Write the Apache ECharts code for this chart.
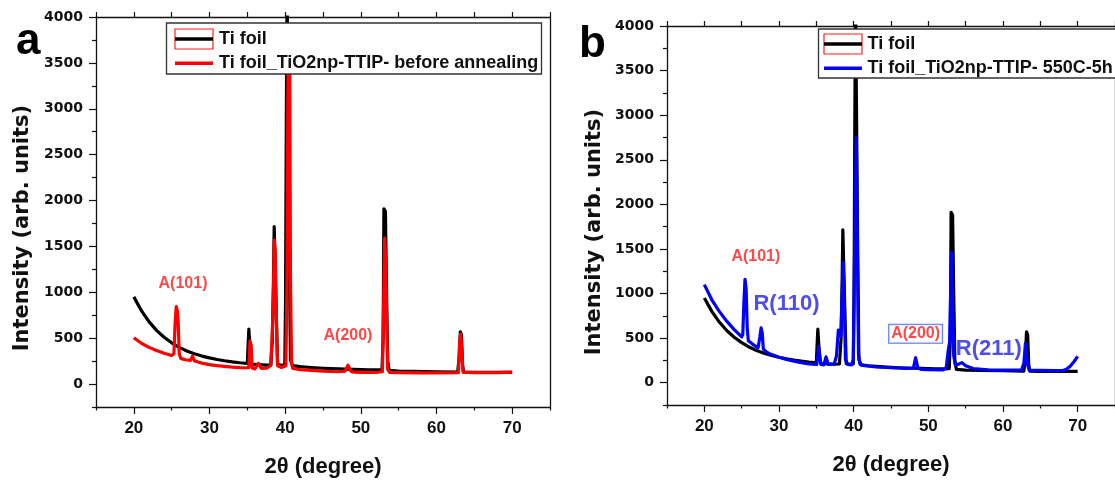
<!DOCTYPE html>
<html><head><meta charset="utf-8">
<script src="https://cdn.jsdelivr.net/npm/echarts@6/dist/echarts.min.js"></script>
<style>html,body{margin:0;padding:0;background:#fff}#c{width:1115px;height:483px}</style>
</head><body><div id="c"></div>
<script>
// ---------- tick values ----------
const xMajorTicks = [20, 30, 40, 50, 60, 70];
const xMinorTicks = [15, 25, 35, 45, 55, 65, 75];
const xAllTicks = [15, 20, 25, 30, 35, 40, 45, 50, 55, 60, 65, 70, 75];
const yMajorTicks = [0, 500, 1000, 1500, 2000, 2500, 3000, 3500, 4000];
const yMinorTicks = [-250, 250, 750, 1250, 1750, 2250, 2750, 3250, 3750];

// ---------- series (2theta, intensity) ----------
const tiFoil = [
  [20,950],[21,800],[22,680],[23,585],[24,510],[25,450],[26,400],[27,360],[28,330],[29,305],
  [30,285],[31,268],[32,254],[33,242],[34,232],[35.0,224],[35.1,420],[35.2,600],[35.35,590],[35.45,260],
  [35.6,218],[36.5,212],[37.5,207],[38.1,210],[38.3,480],[38.45,1100],[38.55,1715],[38.7,1700],[38.85,700],[39.0,215],
  [39.5,205],[39.95,210],[40.05,900],[40.15,2850],[40.25,4300],[40.4,4300],[40.55,1400],[40.7,260],[41,200],[42,190],
  [43,183],[44,177],[45,172],[46,168],[47,165],[48,162],[49,160],[50,158],[51,156],[52,155],
  [52.8,158],[52.95,500],[53.05,1910],[53.25,1880],[53.4,1000],[53.55,250],[53.75,150],[55,142],[57,138],[60,134],
  [62.8,130],[63.0,300],[63.15,570],[63.3,540],[63.45,200],[63.6,130],[65,128],[70,128]
];
const beforeAnnealing = [
  [20,505],[21,445],[22,400],[23,365],[24,335],[25,312],[25.3,330],[25.45,650],[25.6,845],[25.75,800],
  [25.85,700],[26.0,330],[26.2,280],[26.8,265],[27.5,258],[27.75,305],[28.0,255],[28.5,240],[29,228],[30,212],
  [31,200],[32,192],[33,185],[34,180],[35.2,178],[35.35,470],[35.5,430],[35.65,175],[36.0,165],[36.45,225],
  [36.85,170],[37.5,172],[38.1,200],[38.3,560],[38.45,1000],[38.55,1570],[38.7,1450],[38.85,650],[39.0,200],[39.5,180],
  [40.1,200],[40.25,1200],[40.35,3000],[40.45,3900],[40.6,3700],[40.7,1170],[40.85,220],[41,170],[42,158],[43,152],
  [44,146],[45,141],[46,137],[47,134],[47.9,140],[48.3,205],[48.7,140],[49,130],[50,128],[52,126],
  [52.85,135],[53.0,800],[53.15,1590],[53.3,1300],[53.4,770],[53.55,160],[53.8,128],[55,125],[58,122],[60,122],
  [62.9,125],[63.05,450],[63.2,545],[63.35,350],[63.5,130],[65,125],[68,125],[70,130]
];
const annealed550 = [
  [20,1100],[21,930],[22,800],[23,690],[24,595],[25.0,515],[25.15,540],[25.3,900],[25.45,1160],[25.6,1050],
  [25.75,600],[25.9,470],[26.5,430],[27.2,390],[27.45,520],[27.6,615],[27.75,560],[27.9,380],[28.3,345],[29,315],
  [30,285],[31,262],[32,242],[33,225],[34,210],[35.05,205],[35.2,300],[35.3,410],[35.45,320],[35.6,205],
  [36.0,200],[36.3,290],[36.6,205],[37.4,210],[37.7,300],[37.95,590],[38.1,600],[38.3,520],[38.45,1000],[38.6,1350],
  [38.75,900],[38.9,260],[39.2,205],[39.7,200],[39.95,260],[40.05,1000],[40.2,1930],[40.35,2750],[40.5,1500],[40.65,320],
  [40.85,205],[41.5,190],[43,178],[45,168],[47,160],[48.0,165],[48.3,280],[48.6,165],[49,150],[50,147],
  [52.0,145],[52.4,170],[52.65,350],[52.85,460],[53.0,480],[53.1,1460],[53.25,900],[53.4,300],[53.6,205],[54.0,205],
  [54.5,225],[55,190],[56,158],[58,145],[60,142],[62.5,145],[62.8,220],[63.0,440],[63.15,430],[63.3,200],
  [63.5,142],[65,138],[67,135],[68,137],[68.5,150],[69,185],[69.5,235],[70,295]
];

// ---------- annotations [2theta, intensity, text] ----------
const notesA = [[26.5, 1100, 'A(101)'], [48.3, 525, 'A(200)']];
const notesBRed = [[26.9, 1410, 'A(101)']];
const notesBBox = [[48.3, 549, 'A(200)']];
const notesBBlue = [[31.0, 878, 'R(110)'], [58.1, 381, 'R(211)']];

const legendA = ['Ti foil', 'Ti foil_TiO2np-TTIP- before annealing'];
const legendB = ['Ti foil', 'Ti foil_TiO2np-TTIP- 550C-5h'];
const xTitle = '2\u03b8 (degree)';
const yTitle = 'Intensity (arb. units)';

// ---------- helpers ----------
const AX = '#111';
const axLine = {show: true, onZero: false, lineStyle: {color: AX, width: 1.3}};
const noLine = {show: false, onZero: false};
function xAxes(g) {
  return [
    {gridIndex: g, type: 'value', min: 15, max: 75, position: 'bottom',
     axisLine: axLine, splitLine: {show: false},
     axisTick: {show: true, inside: false, length: 7, customValues: xMajorTicks, lineStyle: {color: AX, width: 1.2}},
     axisLabel: {show: true, customValues: xMajorTicks, margin: 13, color: AX, formatter: v => String(v),
       fontFamily: 'Liberation Sans', fontWeight: 'bold', fontSize: 17},
     name: xTitle, nameLocation: 'middle', nameGap: 49,
     nameTextStyle: {fontFamily: 'Liberation Sans', fontWeight: 'bold', fontSize: 22, color: AX}},
    {gridIndex: g, type: 'value', min: 15, max: 75, position: 'bottom',
     axisLine: noLine, splitLine: {show: false}, axisLabel: {show: false},
     axisTick: {show: true, length: 3.5, customValues: xMinorTicks, lineStyle: {color: AX, width: 1.2}}},
    {gridIndex: g, type: 'value', min: 15, max: 75, position: 'top',
     axisLine: axLine, splitLine: {show: false}, axisLabel: {show: false},
     axisTick: {show: true, length: 5, customValues: xAllTicks, lineStyle: {color: AX, width: 1.2}}}
  ];
}
function yAxes(g) {
  return [
    {gridIndex: g, type: 'value', min: -250, max: 4000, position: 'left',
     axisLine: axLine, splitLine: {show: false},
     axisTick: {show: true, length: 7, customValues: yMajorTicks, lineStyle: {color: AX, width: 1.2}},
     axisLabel: {show: true, customValues: yMajorTicks, margin: 13, color: AX, formatter: v => String(v),
       fontFamily: 'DejaVu Sans', fontWeight: 'bold', fontSize: 14}},
    {gridIndex: g, type: 'value', min: -250, max: 4000, position: 'left',
     axisLine: noLine, splitLine: {show: false}, axisLabel: {show: false},
     axisTick: {show: true, length: 4, customValues: yMinorTicks, lineStyle: {color: AX, width: 1.2}}},
    {gridIndex: g, type: 'value', min: -250, max: 4000, position: 'right',
     axisLine: axLine, splitLine: {show: false}, axisLabel: {show: false}, axisTick: {show: false}}
  ];
}
function lineSeries(name, data, color, xi, yi) {
  return {name, type: 'line', data, xAxisIndex: xi, yAxisIndex: yi, showSymbol: false, symbol: 'none',
    smooth: false, animation: false, clip: true, z: 2,
    lineStyle: {color, width: 3.2, join: 'round'}};
}
function noteSeries(notes, xi, yi, style) {
  return {type: 'scatter', xAxisIndex: xi, yAxisIndex: yi, symbolSize: 0, silent: true, animation: false, z: 5,
    data: notes.map(n => ({value: [n[0], n[1]], txt: n[2]})),
    label: Object.assign({show: true, position: 'inside', formatter: p => p.data.txt,
      fontFamily: 'Liberation Sans', fontWeight: 'bold'}, style)};
}
const legFont = 'bold 18px "Liberation Sans"';
function legend(box, rowY, sampleX, textX, names, color2) {
  return [
    {type: 'rect', z: 100, zlevel: 1, shape: box, style: {fill: '#fff', stroke: '#333', lineWidth: 1.3}},
    {type: 'rect', z: 101, zlevel: 1, shape: {x: sampleX[0], y: rowY[0] - 10, width: sampleX[1] - sampleX[0], height: 20},
     style: {fill: 'none', stroke: '#ff2020', lineWidth: 1.2}},
    {type: 'line', z: 102, zlevel: 1, shape: {x1: sampleX[0], y1: rowY[0], x2: sampleX[1], y2: rowY[0]},
     style: {stroke: '#000', lineWidth: 3.5}},
    {type: 'line', z: 102, zlevel: 1, shape: {x1: sampleX[0], y1: rowY[1], x2: sampleX[1], y2: rowY[1]},
     style: {stroke: color2, lineWidth: 3.5}},
    {type: 'text', z: 102, zlevel: 1, x: textX, y: rowY[0], style: {text: names[0], font: legFont, fill: '#111',
      textAlign: 'left', textVerticalAlign: 'middle'}},
    {type: 'text', z: 102, zlevel: 1, x: textX, y: rowY[1], style: {text: names[1], font: legFont, fill: '#111',
      textAlign: 'left', textVerticalAlign: 'middle'}}
  ];
}
const yTitleFont = 'bold 21px "DejaVu Sans"';
const panelFont = 'bold 44px "Liberation Sans"';

const option = {
  backgroundColor: '#fff',
  animation: false,
  grid: [
    {left: 96, top: 17, width: 454, height: 390, containLabel: false},
    {left: 667, top: 26, width: 452, height: 379, containLabel: false}
  ],
  xAxis: [...xAxes(0), ...xAxes(1)],
  yAxis: [...yAxes(0), ...yAxes(1)],
  series: [
    lineSeries('Ti foil', tiFoil, '#000', 0, 0),
    lineSeries(legendA[1], beforeAnnealing, '#ff0000', 0, 0),
    lineSeries('Ti foil', tiFoil, '#000', 3, 3),
    lineSeries(legendB[1], annealed550, '#0000ff', 3, 3),
    noteSeries(notesA, 0, 0, {color: '#ff1a1a', fontSize: 16}),
    noteSeries(notesBRed, 3, 3, {color: '#ff1a1a', fontSize: 16}),
    noteSeries(notesBBox, 3, 3, {color: '#ff1a1a', fontSize: 16, borderColor: '#3050ff', borderWidth: 1,
      padding: [2, 2, 0, 2], backgroundColor: '#fff'}),
    noteSeries(notesBBlue, 3, 3, {color: '#2222e6', fontSize: 22})
  ],
  graphic: [
    ...legend({x: 166.5, y: 23, width: 375, height: 51}, [39, 63.3], [175, 213], 219, legendA, '#ff0000'),
    ...legend({x: 818.5, y: 29, width: 310, height: 49}, [44, 68.3], [824, 862], 867.5, legendB, '#0000ff'),
    {type: 'text', x: 23, y: 228, rotation: Math.PI / 2, style: {text: yTitle, font: yTitleFont, fill: '#111',
      textAlign: 'center', textVerticalAlign: 'middle'}},
    {type: 'text', x: 595, y: 232, rotation: Math.PI / 2, style: {text: yTitle, font: yTitleFont, fill: '#111',
      textAlign: 'center', textVerticalAlign: 'middle'}},
    {type: 'text', x: 16, y: 42, style: {text: 'a', font: panelFont, fill: '#000', textAlign: 'left', textVerticalAlign: 'middle'}},
    {type: 'text', x: 579, y: 45, style: {text: 'b', font: panelFont, fill: '#000', textAlign: 'left', textVerticalAlign: 'middle'}}
  ]
};
const chart = echarts.init(document.getElementById('c'), null, {renderer: 'canvas'});
chart.setOption(option);
</script></body></html>
